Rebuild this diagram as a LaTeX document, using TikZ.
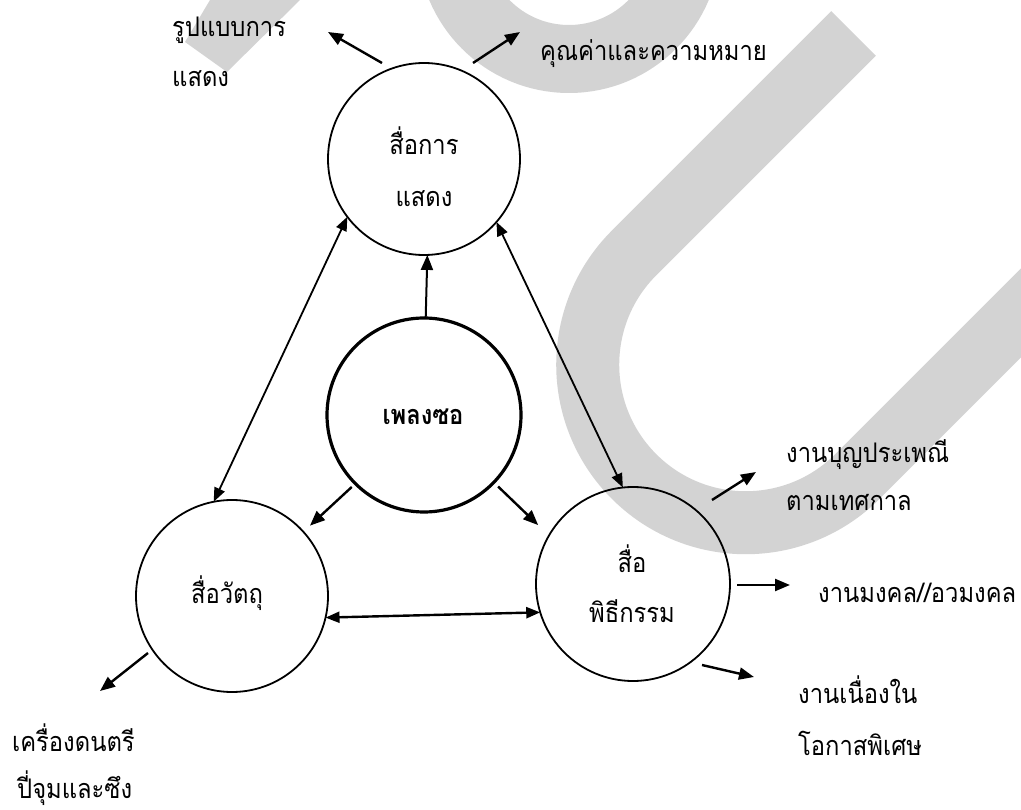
\documentclass[tikz,border=0pt]{standalone}
\usepackage{fontspec}
\newfontfamily\thaifont[Script=Thai, FakeStretch=0.88]{Loma}
\usetikzlibrary{arrows.meta}
\definecolor{wmgray}{RGB}{211,211,211}
\begin{document}
\begin{tikzpicture}[x=1pt,y=-1pt,
  txt/.style={font=\thaifont\fontsize{27}{27}\selectfont, inner sep=0pt, anchor=base west},
  ctxt/.style={txt, anchor=base},
  bubble/.style={circle, draw, line width=1.8pt, minimum size=192pt, inner sep=0pt, outer sep=0pt},
  hub/.style={bubble, line width=3.2pt, minimum size=194pt},
  arr/.style={-{Triangle[length=15pt,width=12pt]}, line width=2.4pt},
  link/.style={{Triangle[length=14pt,width=11pt]}-{Triangle[length=14pt,width=11pt]}, line width=1.8pt},
]
\useasboundingbox (0,0) rectangle (1021,810);

% light background band
\begin{scope}
  \clip (0,0) rectangle (1021,810);
  \fill[wmgray] (210,0) -- (300,0) -- (227,72) -- (185,42) -- cycle;
  \draw[wmgray, line width=68pt] (569,-58.5) circle[radius=117.5];
  \draw[wmgray, line width=63pt] (853.5,33.5) -- (634,253)
    arc[start angle=225, end angle=45, radius=158] -- (1150,184);
\end{scope}

% circles
\node[bubble] (T) at (424,159) {};
\node[hub] (C) at (424,415) {};
\node[bubble] (BL) at (232,596) {};
\node[bubble, minimum size=194pt] (BR) at (633,584) {};

% circle texts
\node[ctxt] (t1) at (424,155) {สื่อการ};
\node[ctxt] (t2) at (424,207) {แสดง};
\node[ctxt, font=\thaifont\bfseries\fontsize{27}{27}\selectfont] (c1) at (423,425) {เพลงซอ};
\node[ctxt] (bl1) at (227,603) {สื่อวัตถุ};
\node[ctxt] (br1) at (632,572) {สื่อ};
\node[ctxt] (br2) at (632,622) {พิธีกรรม};

% outer labels
\node[txt] (form1) at (172,37) {รูปแบบการ};
\node[txt] (form2) at (172,87) {แสดง};
\node[txt] (value) at (540,61) {คุณค่าและความหมาย};
\node[txt] (fest1) at (786,462) {งานบุญประเพณี};
\node[txt] (fest2) at (786,510) {ตามเทศกาล};
\node[txt] (rite) at (818,602) {งานมงคล//อวมงคล};
\node[txt] (spec1) at (798,703) {งานเนื่องใน};
\node[txt] (spec2) at (798,755) {โอกาสพิเศษ};
\node[txt] (inst1) at (12,751) {เครื่องดนตรี};
\node[txt] (inst2) at (17,798) {ปี่จุมและซึง};

% arrow ends next to the labels
\coordinate (e-form) at (328,32);
\coordinate (e-value) at (520,32);
\coordinate (e-fest) at (756,472);
\coordinate (e-rite) at (790,585);
\coordinate (e-spec) at (754,677);
\coordinate (e-inst) at (100,691);

% links between the circles
\draw[arr, line width=2pt] (C.89) -- (T.272);
\draw[link] (BL.101) -- (T.217);
\draw[link] (T.319.5) -- (BR.96.5);
\draw[arr, shorten <=5pt, shorten >=9pt] (C.225) -- (BL.42);
\draw[arr, shorten <=6pt, shorten >=15pt] (C.316) -- (BR.150);
\draw[link, line width=2.4pt] (BL.-13) -- (BR.197);

% arrows out to the labels
\draw[arr] ([shift={(-42,-96)}]T.center) -- (e-form);
\draw[arr] ([shift={(49,-96)}]T.center) -- (e-value);
\draw[arr] ([shift={(79,-84)}]BR.center) -- (e-fest);
\draw[arr] ([shift={(104,1)}]BR.center) -- (e-rite);
\draw[arr] ([shift={(69,81)}]BR.center) -- (e-spec);
\draw[arr] ([shift={(-84,57)}]BL.center) -- (e-inst);
\end{tikzpicture}
\end{document}
